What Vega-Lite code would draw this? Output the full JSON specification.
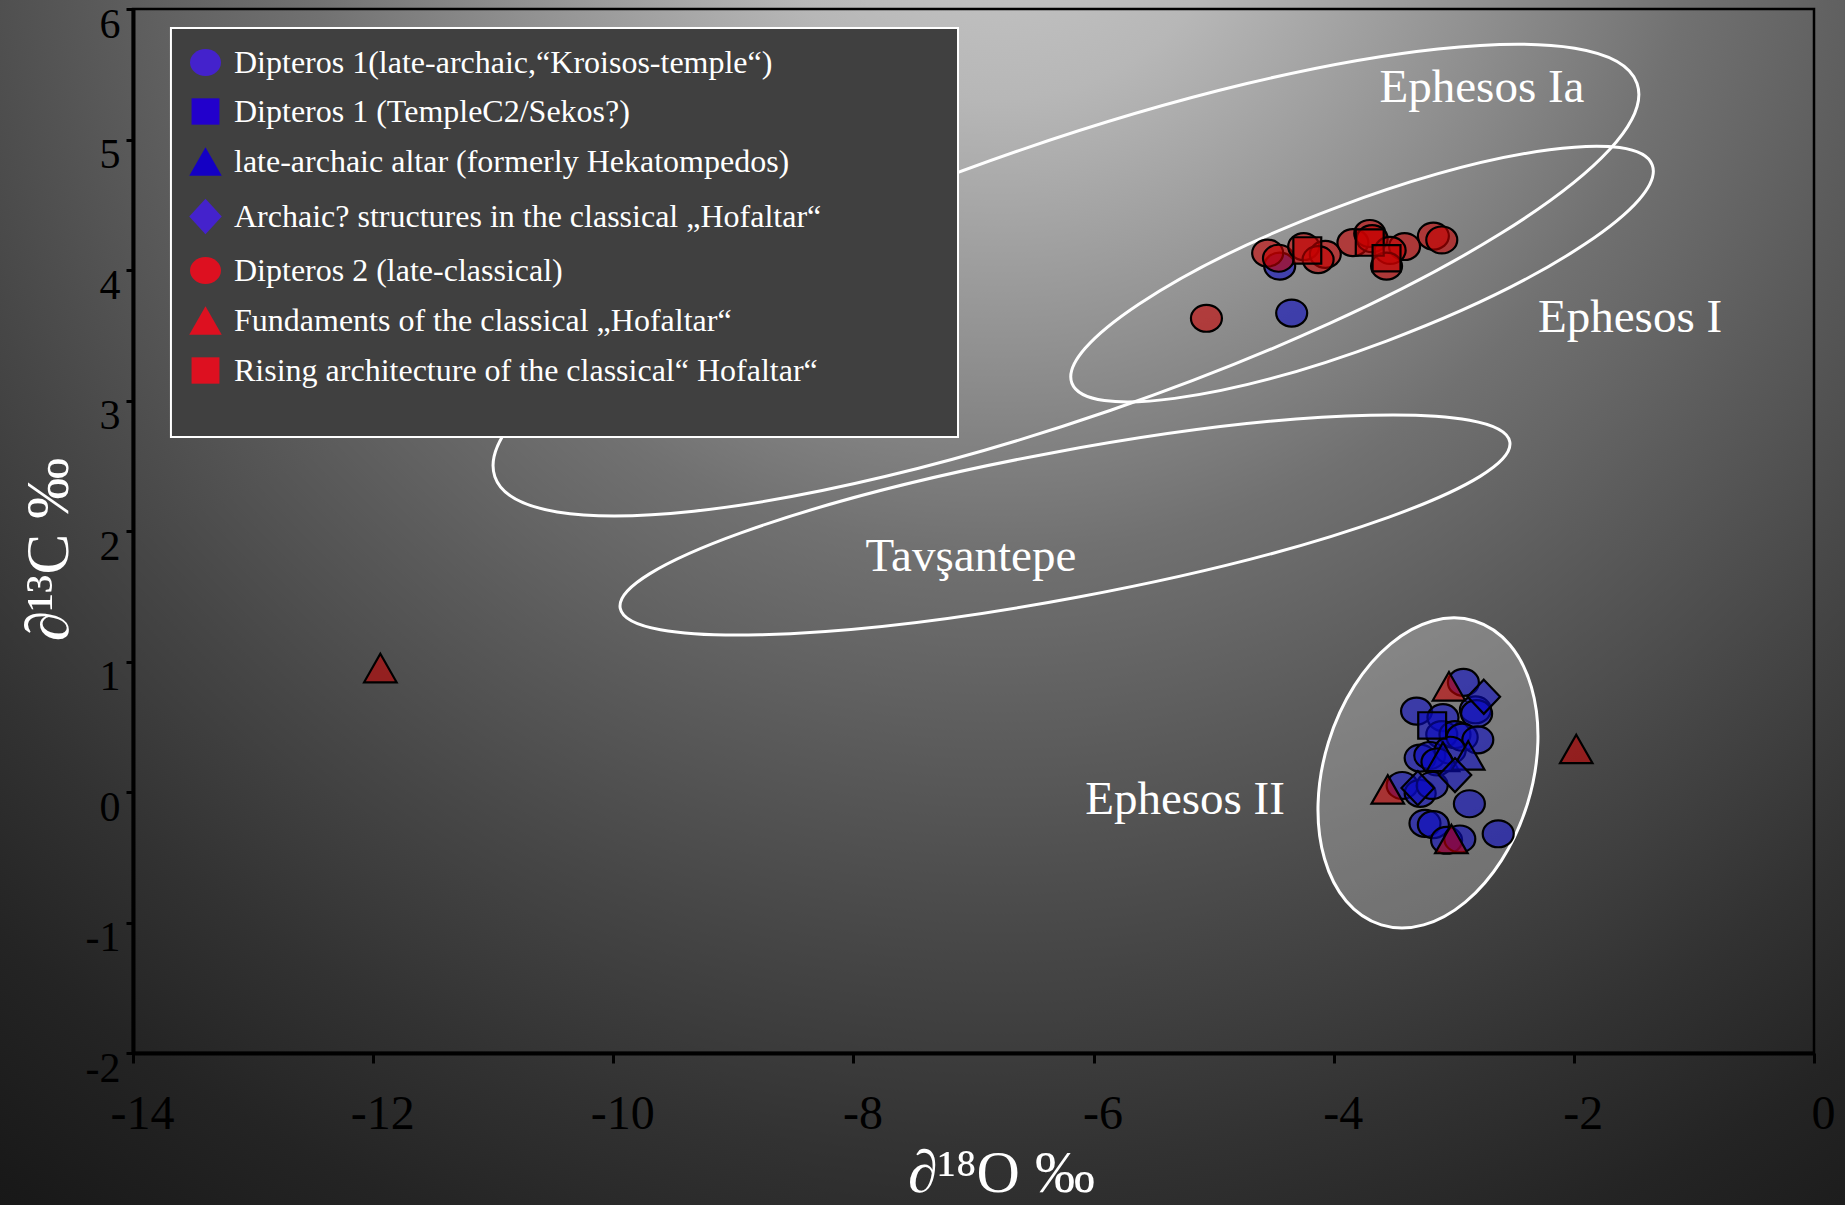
{
  "$schema": "https://vega.github.io/schema/vega-lite/v6.json",
  "width": 1681,
  "height": 1044,
  "autosize": {"type": "none"},
  "padding": {"left": 133, "top": 9, "right": 31, "bottom": 152},
  "background": "#2a2a2a",
  "datasets": {
    "samples": [
      {"group": "Dipteros 1(late-archaic,“Kroisos-temple“)", "d18O": -4.45, "d13C": 4.03},
      {"group": "Dipteros 1(late-archaic,“Kroisos-temple“)", "d18O": -4.35, "d13C": 3.67},
      {"group": "Dipteros 1(late-archaic,“Kroisos-temple“)", "d18O": -2.92, "d13C": 0.84},
      {"group": "Dipteros 1(late-archaic,“Kroisos-temple“)", "d18O": -2.82, "d13C": 0.63},
      {"group": "Dipteros 1(late-archaic,“Kroisos-temple“)", "d18O": -2.81, "d13C": 0.60},
      {"group": "Dipteros 1(late-archaic,“Kroisos-temple“)", "d18O": -3.31, "d13C": 0.62},
      {"group": "Dipteros 1(late-archaic,“Kroisos-temple“)", "d18O": -3.09, "d13C": 0.57},
      {"group": "Dipteros 1(late-archaic,“Kroisos-temple“)", "d18O": -3.10, "d13C": 0.44},
      {"group": "Dipteros 1(late-archaic,“Kroisos-temple“)", "d18O": -2.99, "d13C": 0.44},
      {"group": "Dipteros 1(late-archaic,“Kroisos-temple“)", "d18O": -2.93, "d13C": 0.42},
      {"group": "Dipteros 1(late-archaic,“Kroisos-temple“)", "d18O": -2.80, "d13C": 0.40},
      {"group": "Dipteros 1(late-archaic,“Kroisos-temple“)", "d18O": -3.28, "d13C": 0.26},
      {"group": "Dipteros 1(late-archaic,“Kroisos-temple“)", "d18O": -3.20, "d13C": 0.28},
      {"group": "Dipteros 1(late-archaic,“Kroisos-temple“)", "d18O": -3.03, "d13C": 0.32},
      {"group": "Dipteros 1(late-archaic,“Kroisos-temple“)", "d18O": -3.14, "d13C": 0.23},
      {"group": "Dipteros 1(late-archaic,“Kroisos-temple“)", "d18O": -3.43, "d13C": 0.05},
      {"group": "Dipteros 1(late-archaic,“Kroisos-temple“)", "d18O": -3.28, "d13C": -0.01},
      {"group": "Dipteros 1(late-archaic,“Kroisos-temple“)", "d18O": -3.18, "d13C": 0.05},
      {"group": "Dipteros 1(late-archaic,“Kroisos-temple“)", "d18O": -2.87, "d13C": -0.09},
      {"group": "Dipteros 1(late-archaic,“Kroisos-temple“)", "d18O": -3.24, "d13C": -0.24},
      {"group": "Dipteros 1(late-archaic,“Kroisos-temple“)", "d18O": -3.17, "d13C": -0.25},
      {"group": "Dipteros 1(late-archaic,“Kroisos-temple“)", "d18O": -3.06, "d13C": -0.37},
      {"group": "Dipteros 1(late-archaic,“Kroisos-temple“)", "d18O": -2.95, "d13C": -0.36},
      {"group": "Dipteros 1(late-archaic,“Kroisos-temple“)", "d18O": -2.63, "d13C": -0.32},
      {"group": "Dipteros 1 (TempleC2/Sekos?)", "d18O": -3.18, "d13C": 0.51},
      {"group": "late-archaic altar (formerly Hekatompedos)", "d18O": -3.09, "d13C": 0.27},
      {"group": "late-archaic altar (formerly Hekatompedos)", "d18O": -2.88, "d13C": 0.28},
      {"group": "Archaic? structures in the classical „Hofaltar“", "d18O": -2.75, "d13C": 0.73},
      {"group": "Archaic? structures in the classical „Hofaltar“", "d18O": -2.99, "d13C": 0.13},
      {"group": "Archaic? structures in the classical „Hofaltar“", "d18O": -3.30, "d13C": 0.03},
      {"group": "Dipteros 2 (late-classical)", "d18O": -4.55, "d13C": 4.13},
      {"group": "Dipteros 2 (late-classical)", "d18O": -4.46, "d13C": 4.09},
      {"group": "Dipteros 2 (late-classical)", "d18O": -4.25, "d13C": 4.18},
      {"group": "Dipteros 2 (late-classical)", "d18O": -4.07, "d13C": 4.12},
      {"group": "Dipteros 2 (late-classical)", "d18O": -4.13, "d13C": 4.08},
      {"group": "Dipteros 2 (late-classical)", "d18O": -3.84, "d13C": 4.21},
      {"group": "Dipteros 2 (late-classical)", "d18O": -3.70, "d13C": 4.28},
      {"group": "Dipteros 2 (late-classical)", "d18O": -3.68, "d13C": 4.24},
      {"group": "Dipteros 2 (late-classical)", "d18O": -3.41, "d13C": 4.18},
      {"group": "Dipteros 2 (late-classical)", "d18O": -3.53, "d13C": 4.15},
      {"group": "Dipteros 2 (late-classical)", "d18O": -3.56, "d13C": 4.03},
      {"group": "Dipteros 2 (late-classical)", "d18O": -3.17, "d13C": 4.26},
      {"group": "Dipteros 2 (late-classical)", "d18O": -3.10, "d13C": 4.23},
      {"group": "Dipteros 2 (late-classical)", "d18O": -5.06, "d13C": 3.63},
      {"group": "Fundaments of the classical „Hofaltar“", "d18O": -11.94, "d13C": 0.95},
      {"group": "Fundaments of the classical „Hofaltar“", "d18O": -1.98, "d13C": 0.33},
      {"group": "Fundaments of the classical „Hofaltar“", "d18O": -3.04, "d13C": 0.81},
      {"group": "Fundaments of the classical „Hofaltar“", "d18O": -3.55, "d13C": 0.02},
      {"group": "Fundaments of the classical „Hofaltar“", "d18O": -3.02, "d13C": -0.36},
      {"group": "Rising architecture of the classical“ Hofaltar“", "d18O": -4.22, "d13C": 4.15},
      {"group": "Rising architecture of the classical“ Hofaltar“", "d18O": -3.70, "d13C": 4.21},
      {"group": "Rising architecture of the classical“ Hofaltar“", "d18O": -3.56, "d13C": 4.09}
    ],
    "regions": [
      {"name": "Ephesos Ia", "d18O": -6.23, "d13C": 3.923},
      {"name": "Ephesos I", "d18O": -3.764, "d13C": 3.969},
      {"name": "Tavşantepe", "d18O": -6.238, "d13C": 2.046},
      {"name": "Ephesos II", "d18O": -3.215, "d13C": 0.146}
    ],
    "labels": [
      {"name": "Ephesos Ia", "d18O": -2.765, "d13C": 5.287},
      {"name": "Ephesos I", "d18O": -1.532, "d13C": 3.525},
      {"name": "Tavşantepe", "d18O": -7.021, "d13C": 1.693},
      {"name": "Ephesos II", "d18O": -5.238, "d13C": -0.169}
    ]
  },
  "layer": [
    {
      "data": {"values": [{}]},
      "mark": {
        "type": "rect",
        "fill": {
          "gradient": "radial",
          "x1": 0.542, "y1": 0.0921, "r1": 0,
          "x2": 0.542, "y2": 0.0921, "r2": 1.0,
          "stops": [
            {"offset": 0, "color": "#cbcbcb"},
            {"offset": 0.135, "color": "#b7b7b7"},
            {"offset": 0.27, "color": "#919191"},
            {"offset": 0.38, "color": "#717171"},
            {"offset": 0.49, "color": "#5b5b5b"},
            {"offset": 0.6, "color": "#464646"},
            {"offset": 0.71, "color": "#323232"},
            {"offset": 0.8, "color": "#242424"},
            {"offset": 0.9, "color": "#191919"},
            {"offset": 1, "color": "#121212"}
          ]
        }
      },
      "encoding": {
        "x": {
          "datum": -15.108, "type": "quantitative",
          "scale": {"domain": [-14, 0], "nice": false, "zero": false},
          "title": "∂¹⁸O ‰",
          "axis": {
            "zindex": 1,
            "values": [-14, -12, -10, -8, -6, -4, -2, 0],
            "labelExpr": "toString(datum.value)",
            "labelFontSize": 48,
            "labelBaseline": "alphabetic",
            "labelPadding": 65,
            "labelOffset": 9,
            "labelFlush": false,
            "labelOverlap": false,
            "tickSize": 10,
            "tickWidth": 3,
            "domainWidth": 4,
            "titleFontSize": 60,
            "titleX": 868,
            "titleY": 138,
            "titleAlign": "center",
            "titleBaseline": "alphabetic"
          }
        },
        "x2": {"datum": 0.258},
        "y": {
          "datum": 6.069, "type": "quantitative",
          "scale": {"domain": [-2, 6], "nice": false, "zero": false},
          "title": "∂¹³C ‰",
          "axis": {
            "zindex": 1,
            "values": [-2, -1, 0, 1, 2, 3, 4, 5, 6],
            "labelExpr": "toString(datum.value)",
            "labelFontSize": 42,
            "labelBaseline": "alphabetic",
            "labelPadding": 6,
            "labelOffset": 28,
            "labelFlush": false,
            "labelOverlap": false,
            "tickSize": 7,
            "tickWidth": 3,
            "domainWidth": 4,
            "titleFontSize": 61,
            "titleAngle": 270,
            "titleX": -66,
            "titleY": 540,
            "titleAlign": "center",
            "titleBaseline": "alphabetic"
          }
        },
        "y2": {"datum": -3.165}
      }
    },
    {
      "data": {"values": [{}]},
      "mark": {"type": "rect", "fillOpacity": 0, "stroke": "black", "strokeWidth": 2.5},
      "encoding": {
        "x": {"datum": -14, "type": "quantitative", "scale": {"domain": [-14, 0], "nice": false, "zero": false}, "title": "∂¹⁸O ‰"},
        "x2": {"datum": 0},
        "y": {"datum": 6, "type": "quantitative", "scale": {"domain": [-2, 6], "nice": false, "zero": false}, "title": "∂¹³C ‰"},
        "y2": {"datum": -2}
      }
    },
    {
      "data": {"name": "regions"},
      "transform": [{"filter": "datum.name == 'Ephesos Ia'"}],
      "mark": {"type": "point", "shape": "M -1 0 A 1 0.228 0 1 0 1 0 A 1 0.228 0 1 0 -1 0 Z", "size": 1459264, "angle": 341, "filled": true, "fill": "white", "fillOpacity": 0, "stroke": "white", "strokeWidth": 3, "strokeOpacity": 1, "opacity": 1},
      "encoding": {
        "x": {"field": "d18O", "type": "quantitative", "scale": {"domain": [-14, 0], "nice": false, "zero": false}, "title": "∂¹⁸O ‰"},
        "y": {"field": "d13C", "type": "quantitative", "scale": {"domain": [-2, 6], "nice": false, "zero": false}, "title": "∂¹³C ‰"}
      }
    },
    {
      "data": {"name": "regions"},
      "transform": [{"filter": "datum.name == 'Ephesos I'"}],
      "mark": {"type": "point", "shape": "M -1 0 A 1 0.23 0 1 0 1 0 A 1 0.23 0 1 0 -1 0 Z", "size": 384400, "angle": 339.4, "filled": true, "fill": "white", "fillOpacity": 0, "stroke": "white", "strokeWidth": 3, "strokeOpacity": 1, "opacity": 1},
      "encoding": {
        "x": {"field": "d18O", "type": "quantitative", "scale": {"domain": [-14, 0], "nice": false, "zero": false}, "title": "∂¹⁸O ‰"},
        "y": {"field": "d13C", "type": "quantitative", "scale": {"domain": [-2, 6], "nice": false, "zero": false}, "title": "∂¹³C ‰"}
      }
    },
    {
      "data": {"name": "regions"},
      "transform": [{"filter": "datum.name == 'Tavşantepe'"}],
      "mark": {"type": "point", "shape": "M -1 0 A 1 0.162 0 1 0 1 0 A 1 0.162 0 1 0 -1 0 Z", "size": 819025, "angle": 349.4, "filled": true, "fill": "white", "fillOpacity": 0, "stroke": "white", "strokeWidth": 3, "strokeOpacity": 1, "opacity": 1},
      "encoding": {
        "x": {"field": "d18O", "type": "quantitative", "scale": {"domain": [-14, 0], "nice": false, "zero": false}, "title": "∂¹⁸O ‰"},
        "y": {"field": "d13C", "type": "quantitative", "scale": {"domain": [-2, 6], "nice": false, "zero": false}, "title": "∂¹³C ‰"}
      }
    },
    {
      "data": {"name": "regions"},
      "transform": [{"filter": "datum.name == 'Ephesos II'"}],
      "mark": {"type": "point", "shape": "M -1 0 A 1 0.655 0 1 0 1 0 A 1 0.655 0 1 0 -1 0 Z", "size": 101124, "angle": 287.1, "filled": true, "fill": "white", "fillOpacity": 0.25, "stroke": "white", "strokeWidth": 3, "strokeOpacity": 1, "opacity": 1},
      "encoding": {
        "x": {"field": "d18O", "type": "quantitative", "scale": {"domain": [-14, 0], "nice": false, "zero": false}, "title": "∂¹⁸O ‰"},
        "y": {"field": "d13C", "type": "quantitative", "scale": {"domain": [-2, 6], "nice": false, "zero": false}, "title": "∂¹³C ‰"}
      }
    },
    {
      "data": {"values": [{}]},
      "mark": {"type": "rect", "fill": "#404040", "stroke": "white", "strokeWidth": 2},
      "encoding": {
        "x": {"datum": -13.684, "type": "quantitative", "scale": {"domain": [-14, 0], "nice": false, "zero": false}, "title": "∂¹⁸O ‰"},
        "x2": {"datum": -7.129},
        "y": {"datum": 5.854, "type": "quantitative", "scale": {"domain": [-2, 6], "nice": false, "zero": false}, "title": "∂¹³C ‰"},
        "y2": {"datum": 2.72}
      }
    },
    {
      "data": {"name": "labels"},
      "mark": {"type": "text", "font": "Liberation Serif", "fontSize": 47, "fill": "white", "align": "center", "baseline": "alphabetic"},
      "encoding": {
        "x": {"field": "d18O", "type": "quantitative", "scale": {"domain": [-14, 0], "nice": false, "zero": false}, "title": "∂¹⁸O ‰"},
        "y": {"field": "d13C", "type": "quantitative", "scale": {"domain": [-2, 6], "nice": false, "zero": false}, "title": "∂¹³C ‰"},
        "text": {"field": "name", "type": "nominal"}
      }
    },
    {
      "data": {"name": "samples"},
      "mark": {"type": "point", "filled": true, "size": 961, "stroke": "black", "strokeWidth": 2.2, "opacity": 1, "fillOpacity": 0.58},
      "encoding": {
        "x": {"field": "d18O", "type": "quantitative", "scale": {"domain": [-14, 0], "nice": false, "zero": false}, "title": "∂¹⁸O ‰"},
        "y": {"field": "d13C", "type": "quantitative", "scale": {"domain": [-2, 6], "nice": false, "zero": false}, "title": "∂¹³C ‰"},
        "fill": {
          "field": "group", "type": "nominal", "legend": null,
          "scale": {
            "domain": ["Dipteros 1(late-archaic,“Kroisos-temple“)", "Dipteros 1 (TempleC2/Sekos?)", "late-archaic altar (formerly Hekatompedos)", "Archaic? structures in the classical „Hofaltar“", "Dipteros 2 (late-classical)", "Fundaments of the classical „Hofaltar“", "Rising architecture of the classical“ Hofaltar“"],
            "range": ["#0808c2", "#0808c2", "#0808c2", "#0808c2", "#c80000", "#c80000", "#c80000"]
          }
        },
        "shape": {
          "field": "group", "type": "nominal", "legend": null,
          "scale": {
            "domain": ["Dipteros 1(late-archaic,“Kroisos-temple“)", "Dipteros 1 (TempleC2/Sekos?)", "late-archaic altar (formerly Hekatompedos)", "Archaic? structures in the classical „Hofaltar“", "Dipteros 2 (late-classical)", "Fundaments of the classical „Hofaltar“", "Rising architecture of the classical“ Hofaltar“"],
            "range": ["M -1 0 A 1 0.87 0 1 0 1 0 A 1 0.87 0 1 0 -1 0 Z", "M -0.9 -0.85 L 0.9 -0.85 L 0.9 0.85 L -0.9 0.85 Z", "M 0 -0.92 L 1.05 0.92 L -1.05 0.92 Z", "M 0 -1.1 L 1.05 0 L 0 1.1 L -1.05 0 Z", "M -1 0 A 1 0.87 0 1 0 1 0 A 1 0.87 0 1 0 -1 0 Z", "M 0 -0.92 L 1.05 0.92 L -1.05 0.92 Z", "M -0.9 -0.85 L 0.9 -0.85 L 0.9 0.85 L -0.9 0.85 Z"]
          }
        }
      }
    },
    {
      "data": {"name": "samples"},
      "transform": [{"filter": "datum.d18O > 100"}],
      "mark": {"type": "point", "filled": true, "size": 961, "stroke": "white", "strokeWidth": 2, "opacity": 1, "fillOpacity": 1},
      "encoding": {
        "x": {"field": "d18O", "type": "quantitative", "scale": {"domain": [-14, 0], "nice": false, "zero": false}, "title": "∂¹⁸O ‰"},
        "y": {"field": "d13C", "type": "quantitative", "scale": {"domain": [-2, 6], "nice": false, "zero": false}, "title": "∂¹³C ‰"},
        "fill": {
          "field": "group", "type": "nominal",
          "scale": {
            "domain": ["Dipteros 1(late-archaic,“Kroisos-temple“)", "Dipteros 1 (TempleC2/Sekos?)", "late-archaic altar (formerly Hekatompedos)", "Archaic? structures in the classical „Hofaltar“", "Dipteros 2 (late-classical)", "Fundaments of the classical „Hofaltar“", "Rising architecture of the classical“ Hofaltar“"],
            "range": ["#4422cc", "#2200cc", "#1400c4", "#4422cc", "#dd1020", "#dd1020", "#dd1020"]
          },
          "legend": {
            "title": null,
            "orient": "none", "legendX": 38, "legendY": 19,
            "padding": 18,
            "labelFont": "Liberation Serif", "labelFontSize": 32, "labelColor": "white", "labelLimit": 1000, "labelOffset": 12,
            "symbolSize": 961, "symbolStrokeColor": "white", "symbolStrokeWidth": 2, "symbolOpacity": 1,
            "rowPadding": 14,
            "zindex": 2
          }
        },
        "shape": {
          "field": "group", "type": "nominal",
          "scale": {
            "domain": ["Dipteros 1(late-archaic,“Kroisos-temple“)", "Dipteros 1 (TempleC2/Sekos?)", "late-archaic altar (formerly Hekatompedos)", "Archaic? structures in the classical „Hofaltar“", "Dipteros 2 (late-classical)", "Fundaments of the classical „Hofaltar“", "Rising architecture of the classical“ Hofaltar“"],
            "range": ["M -1 0 A 1 0.87 0 1 0 1 0 A 1 0.87 0 1 0 -1 0 Z", "M -0.9 -0.85 L 0.9 -0.85 L 0.9 0.85 L -0.9 0.85 Z", "M 0 -0.92 L 1.05 0.92 L -1.05 0.92 Z", "M 0 -1.15 L 1.05 0 L 0 1.15 L -1.05 0 Z", "M -1 0 A 1 0.87 0 1 0 1 0 A 1 0.87 0 1 0 -1 0 Z", "M 0 -0.92 L 1.05 0.92 L -1.05 0.92 Z", "M -0.9 -0.85 L 0.9 -0.85 L 0.9 0.85 L -0.9 0.85 Z"]
          },
          "legend": {
            "title": null,
            "orient": "none", "legendX": 38, "legendY": 19,
            "padding": 18,
            "labelFont": "Liberation Serif", "labelFontSize": 32, "labelColor": "white", "labelLimit": 1000, "labelOffset": 12,
            "symbolSize": 961, "symbolStrokeColor": "white", "symbolStrokeWidth": 2, "symbolOpacity": 1,
            "rowPadding": 14,
            "zindex": 2
          }
        }
      }
    }
  ],
  "resolve": {"scale": {"fill": "independent", "shape": "independent"}},
  "config": {
    "view": {"stroke": null},
    "font": "Liberation Serif",
    "axis": {
      "zindex": 1,
      "grid": false,
      "domainColor": "black",
      "tickColor": "black",
      "labelColor": "black",
      "labelFont": "Liberation Serif",
      "titleFont": "Liberation Serif",
      "titleColor": "white",
      "titleFontWeight": "normal",
      "labelFontWeight": "normal"
    }
  }
}
